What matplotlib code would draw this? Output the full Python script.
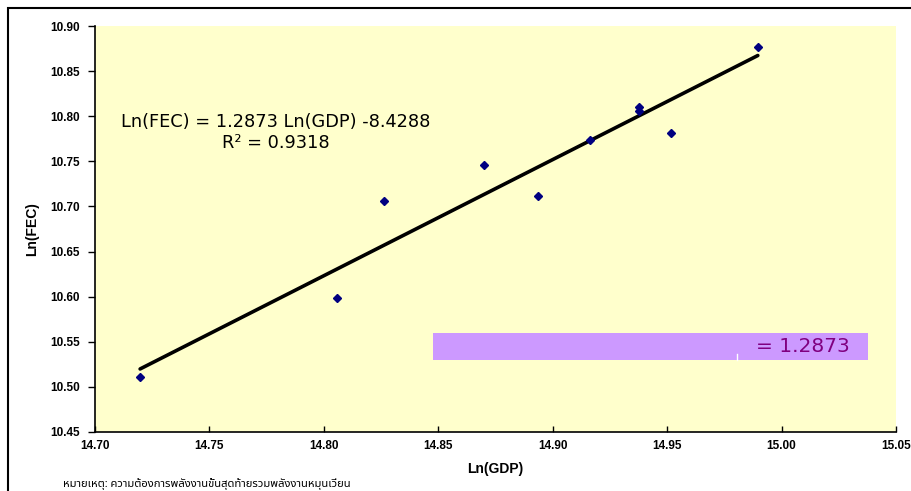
import matplotlib

matplotlib.use("Agg")
import matplotlib.pyplot as plt
from matplotlib.patches import Rectangle
from matplotlib.lines import Line2D


ln_gdp = [14.7197, 14.8057, 14.8263, 14.8700, 14.8935, 14.9163, 14.9377, 14.9377, 14.9516, 14.9896]
ln_fec = [10.511, 10.598, 10.706, 10.746, 10.7115, 10.7736, 10.810, 10.8058, 10.7814, 10.8767]
slope = 1.2873
intercept = -8.4288
r2 = 0.9318

x_ticks = [14.70, 14.75, 14.80, 14.85, 14.90, 14.95, 15.00, 15.05]
y_ticks = [10.45, 10.50, 10.55, 10.60, 10.65, 10.70, 10.75, 10.80, 10.85, 10.90]
note = "หมายเหตุ: ความต้องการพลังงานขั้นสุดท้ายรวมพลังงานหมุนเวียน"

fig = plt.figure(figsize=(9.12, 4.91), dpi=100)
fig.patch.set_facecolor("white")
ax = fig.add_axes([0.1042, 0.1202, 0.8783, 0.8268])
ax.set_facecolor("#FFFFCC")

# trendline over the data range
x0, x1 = min(ln_gdp), max(ln_gdp)
ax.plot([x0, x1], [slope * x0 + intercept, slope * x1 + intercept],
        color="black", lw=2.6, solid_capstyle="round", zorder=2)
ax.plot(ln_gdp, ln_fec, "D", color="#000080", markersize=3.6, zorder=3)

ax.set_xlim(14.70, 15.05)
ax.set_ylim(10.45, 10.90)
ax.set_xticks(x_ticks)
ax.set_yticks(y_ticks)
ax.set_xticklabels([f"{v:.2f}" for v in x_ticks])
ax.set_yticklabels([f"{v:.2f}" for v in y_ticks])
ax.tick_params(axis="x", direction="in", length=4, width=1, pad=6)
ax.tick_params(axis="y", direction="out", length=5, width=1, pad=6)
for lab in ax.get_xticklabels() + ax.get_yticklabels():
    lab.set_fontweight("bold")
    lab.set_fontsize(8.5)
    lab.set_family(["Liberation Sans", "DejaVu Sans"])

for side in ("top", "right"):
    ax.spines[side].set_visible(False)
ax.spines["left"].set_linewidth(1.2)
ax.spines["bottom"].set_linewidth(1.2)

ax.set_xlabel("Ln(GDP)", fontsize=10, fontweight="bold",
              family=["Liberation Sans", "DejaVu Sans"], labelpad=7)
ax.set_ylabel("Ln(FEC)", fontsize=10, fontweight="bold",
              family=["Liberation Sans", "DejaVu Sans"], labelpad=8)

ax.text(14.779, 10.7936, f"Ln(FEC) = {slope:.4f} Ln(GDP) {intercept:.4f}",
        fontsize=12.8, ha="center", va="center", family=["DejaVu Sans"])
ax.text(14.779, 10.7703, f"R² = {r2:.4f}",
        fontsize=12.8, ha="center", va="center", family=["DejaVu Sans"])

# purple highlight box
ax.add_patch(Rectangle((14.8478, 10.530), 15.0377 - 14.8478, 0.030,
                       facecolor="#CC99FF", edgecolor="none", zorder=1))
ax.add_line(Line2D([14.9806, 14.9806], [10.530, 10.5365], color="white", lw=1, zorder=1.5))
ax.text(15.0298, 10.545, f"= {slope:.4f}", fontsize=14.5, color="#800080",
        ha="right", va="center", family=["DejaVu Sans"], zorder=2)

fig.text(63 / 912, 1 - 484 / 491, note, fontsize=8.1, fontweight="bold", style="italic",
         ha="left", va="center",
         family=["Noto Sans Thai", "Loma", "Garuda", "Noto Sans", "DejaVu Sans"])

# outer chart frame
fig.add_artist(Rectangle((8 / 912, -0.2), 1.2, 1 - 8 / 491 + 0.2, transform=fig.transFigure,
                         facecolor="none", edgecolor="black", lw=1.5))

fig.savefig("out.png", dpi=100)
